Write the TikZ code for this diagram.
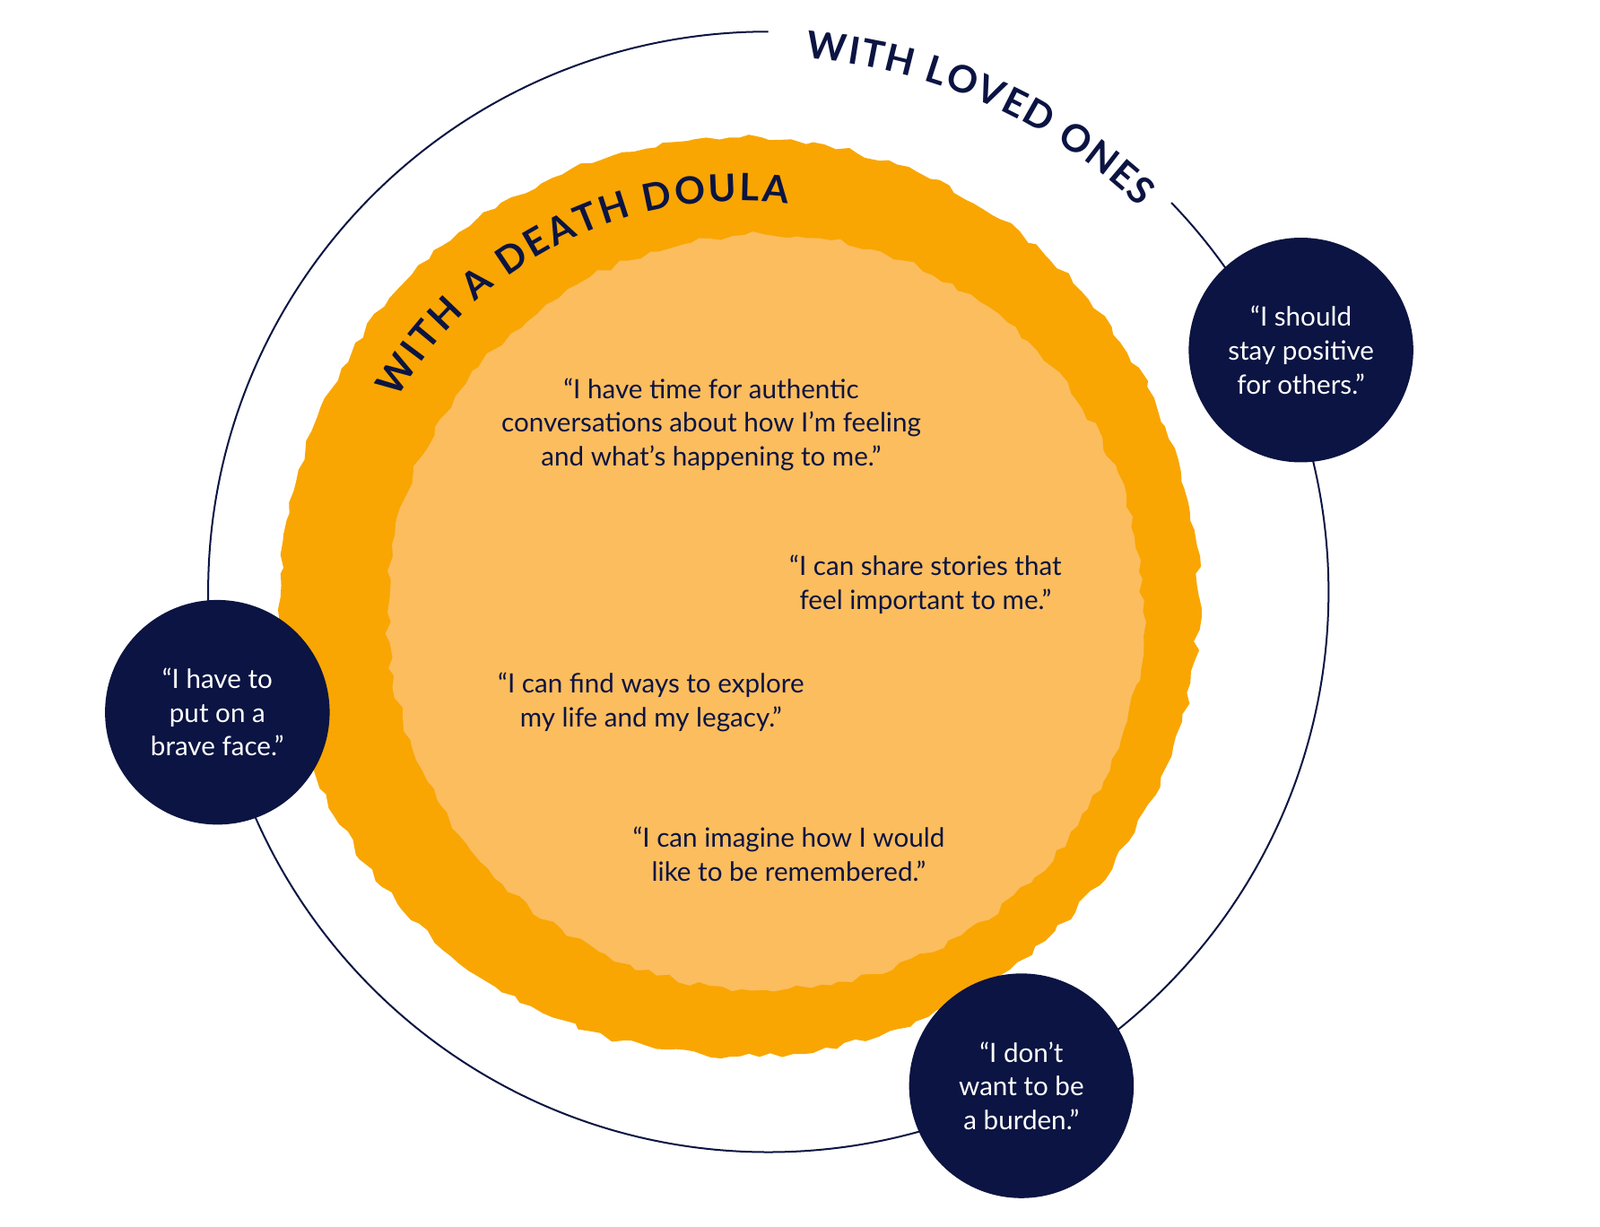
\documentclass[tikz,border=0pt]{standalone}
\usepackage{fontspec}
\setmainfont{Lato}
\usepackage{xcolor}
\usetikzlibrary{positioning,decorations.text,decorations.pathmorphing}
\definecolor{navy}{RGB}{11,20,66}
\definecolor{brushdark}{RGB}{249,166,2}
\definecolor{brushlight}{RGB}{251,189,94}
\tikzset{%
  % Specifications for style of nodes:
  quote/.style = {align=center, text=navy,
    font=\fontsize{7.4}{9.4}\selectfont},
  bubble/.style = {circle, fill=navy, minimum size=2.2cm,
    align=center, text=white, font=\fontsize{7.4}{9.4}\selectfont},
  rough/.style = {decorate, decoration={random steps,
    segment length=3pt, amplitude=0.9pt}},
}
\begin{document}
\begin{tikzpicture}[x=0.01cm,y=0.01cm]
    \useasboundingbox (0,0) rectangle (1568,1202);
    % Specification of circles
    \coordinate (Big) at (753,622);
    \coordinate (Brush) at (725,617);
    \draw[navy, line width=0.5pt] (Big) ++(90:549) arc (90:404:549);
    \fill[brushdark, rough] (Brush) circle (450);
    \fill[brushlight, rough] (750,602) circle (370);
    % Curved titles
    \path[decorate, decoration={text along path, text align={fit to path},
        text={|\fontsize{10.5}{12}\bfseries\color{navy}|WITH A DEATH DOULA}}]
        (Brush) ++(150:388) arc (150:83:388);
    \path[decorate, decoration={text along path, text align={fit to path},
        text={|\fontsize{10.5}{12}\bfseries\color{navy}|WITH LOVED ONES}}]
        (Big) ++(86:524) arc (86:46:524);
    % Quotes on the brush
    \node(Time)[quote] at (697,786) {“I have time for authentic\\
      conversations about how I’m feeling\\ and what’s happening to me.”};
    \node(Share)[quote] at (907,629) {“I can share stories that\\ feel important to me.”};
    \node(Explore)[quote] at (638,514) {“I can find ways to explore\\ my life and my legacy.”};
    \node(Imagine)[quote] at (773,365) {“I can imagine how I would\\ like to be remembered.”};
    % Quotes with loved ones
    \node(Positive)[bubble] at (1275,859) {“I should\\ stay positive\\ for others.”};
    \node(Brave)[bubble] at (213,504) {“I have to\\ put on a\\ brave face.”};
    \node(Burden)[bubble] at (1001,138) {“I don’t\\ want to be\\ a burden.”};
\end{tikzpicture}
\end{document}
